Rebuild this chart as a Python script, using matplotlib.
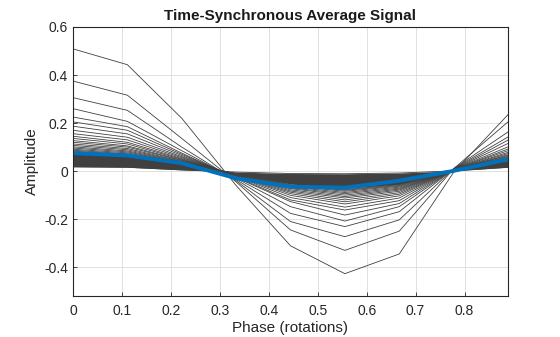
import numpy as np
import matplotlib
matplotlib.use('Agg')
import matplotlib.pyplot as plt

plt.rcParams['font.family'] = ['Liberation Sans', 'DejaVu Sans']

# phase of each sample (9 samples per rotation)
phase = [0, 1/9, 2/9, 3/9, 4/9, 5/9, 6/9, 7/9, 8/9]

# individual rotations that stand out from the dense band
rotations = [
    [0.509, 0.443, 0.220, -0.060, -0.311, -0.427, -0.345, -0.005, 0.235],
    [0.375, 0.316, 0.136, -0.045, -0.245, -0.330, -0.250, 0.010, 0.205],
    [0.306, 0.253, 0.100, -0.040, -0.210, -0.273, -0.203, 0.010, 0.163],
    [0.260, 0.207, 0.085, -0.035, -0.176, -0.231, -0.169, 0.010, 0.142],
    [0.225, 0.185, 0.075, -0.030, -0.148, -0.208, -0.148, 0.008, 0.129],
    [0.205, 0.170, 0.070, -0.027, -0.127, -0.183, -0.135, 0.008, 0.115],
    [0.187, 0.155, 0.065, -0.025, -0.120, -0.162, -0.123, 0.008, 0.101],
    [0.170, 0.141, 0.060, -0.022, -0.110, -0.150, -0.112, 0.007, 0.092],
    [0.156, 0.130, 0.056, -0.020, -0.101, -0.137, -0.103, 0.007, 0.085],
    [0.145, 0.120, 0.052, -0.019, -0.094, -0.128, -0.096, 0.006, 0.078],
    [0.136, 0.113, 0.049, -0.018, -0.088, -0.120, -0.090, 0.006, 0.073],
    [0.127, 0.105, 0.046, -0.016, -0.083, -0.112, -0.084, 0.005, 0.068],
    [0.120, 0.100, 0.044, -0.015, -0.078, -0.106, -0.079, 0.005, 0.065],
    [0.113, 0.094, 0.041, -0.014, -0.073, -0.100, -0.075, 0.005, 0.061],
    [0.107, 0.089, 0.039, -0.013, -0.070, -0.094, -0.071, 0.004, 0.058],
    [0.101, 0.084, 0.037, -0.012, -0.066, -0.089, -0.067, 0.004, 0.055],
    [0.096, 0.080, 0.035, -0.012, -0.062, -0.084, -0.063, 0.004, 0.052],
    [0.091, 0.076, 0.033, -0.011, -0.059, -0.080, -0.060, 0.004, 0.049],
    [0.087, 0.072, 0.032, -0.010, -0.057, -0.077, -0.057, 0.004, 0.047],
]

# edges of the dense band of small rotations
band_upper = [0.083, 0.069, 0.030, -0.010, -0.053, -0.072, -0.054, 0.004, 0.045]
band_lower = [0.018, 0.016, 0.005, -0.004, -0.010, -0.011, -0.008, 0.001, 0.016]

# time-synchronous average
tsa = [0.075, 0.065, 0.033, -0.030, -0.065, -0.069, -0.040, 0.001, 0.049]

fig = plt.figure(figsize=(5.6, 3.37), dpi=100)
ax = fig.add_axes([73/560, 1 - 296/337, 435/560, 269/337])

gray = '#404040'
ax.fill_between(phase, band_lower, band_upper, color=gray, linewidth=0)
ax.plot(phase, band_upper, color=gray, linewidth=0.6)
ax.plot(phase, band_lower, color=gray, linewidth=0.6)
for r in rotations:
    ax.plot(phase, r, color=gray, linewidth=0.6)
ax.plot(phase, tsa, color='#0072BD', linewidth=2.8)

ax.set_xlim(0, 8/9)
ax.set_ylim(-0.52, 0.6)
xt = [0, 0.1, 0.2, 0.3, 0.4, 0.5, 0.6, 0.7, 0.8]
ax.set_xticks(xt)
ax.set_xticklabels(['0', '0.1', '0.2', '0.3', '0.4', '0.5', '0.6', '0.7', '0.8'])
yt = [-0.4, -0.2, 0, 0.2, 0.4, 0.6]
ax.set_yticks(yt)
ax.set_yticklabels(['-0.4', '-0.2', '0', '0.2', '0.4', '0.6'])
ax.tick_params(direction='in', length=3, width=0.6, labelsize=10, colors='#262626')
ax.tick_params(axis='x', pad=6)
ax.grid(True, color='#dcdcdc', linewidth=0.6)
ax.set_axisbelow(True)
for s in ax.spines.values():
    s.set_color('#262626')
    s.set_linewidth(0.8)

ax.set_title('Time-Synchronous Average Signal', fontsize=11, fontweight='bold', color='#1a1a1a', pad=5)
ax.set_xlabel('Phase (rotations)', fontsize=11, color='#262626', labelpad=2)
ax.set_ylabel('Amplitude', fontsize=11, color='#262626', labelpad=4)

fig.savefig('out.png', dpi=100)
